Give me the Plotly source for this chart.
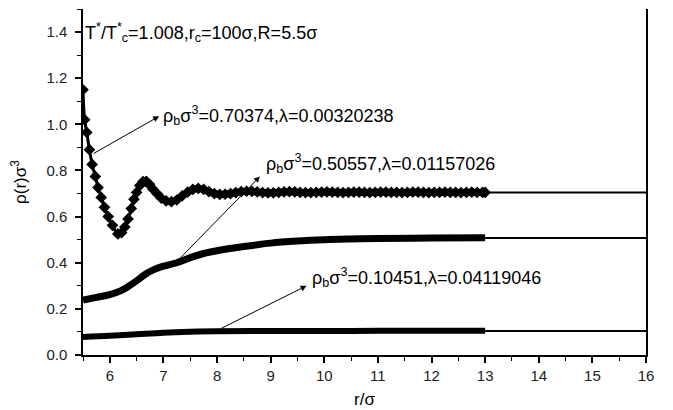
import plotly.graph_objects as go

# ---- data ----
# rho_b sigma^3 = 0.70374 (diamonds)
x1 = [5.50, 5.53, 5.57, 5.62, 5.67, 5.73, 5.78, 5.84, 5.90, 5.97, 6.05, 6.15, 6.22, 6.28,
      6.34, 6.40, 6.45, 6.50, 6.56, 6.62, 6.68, 6.74, 6.80, 6.88, 6.96, 7.05, 7.15, 7.25,
      7.35, 7.45, 7.55, 7.65, 7.75, 7.85, 7.95,
      8.05, 8.15, 8.25, 8.35, 8.45, 8.55, 8.65, 8.75, 8.85, 8.95,
      9.05, 9.15, 9.25, 9.35, 9.45, 9.55, 9.65, 9.75, 9.85, 9.95,
      10.05, 10.15, 10.25, 10.35, 10.45, 10.55, 10.65, 10.75, 10.85, 10.95,
      11.05, 11.15, 11.25, 11.35, 11.45, 11.55, 11.65, 11.75, 11.85, 11.95,
      12.05, 12.15, 12.25, 12.35, 12.45, 12.55, 12.65, 12.75, 12.85, 12.95, 13.00]
y1 = [1.150, 1.020, 0.965, 0.890, 0.826, 0.774, 0.726, 0.683, 0.640, 0.600, 0.562, 0.525, 0.530, 0.555,
      0.590, 0.635, 0.675, 0.705, 0.735, 0.752, 0.752, 0.740, 0.720, 0.700, 0.680, 0.668, 0.665, 0.672,
      0.690, 0.706, 0.718, 0.722, 0.718, 0.708, 0.700,
      0.696, 0.697, 0.700, 0.704, 0.708, 0.710, 0.709, 0.707, 0.704, 0.703,
      0.703, 0.705, 0.707, 0.708, 0.707, 0.705, 0.704, 0.704, 0.705, 0.706,
      0.707, 0.706, 0.705, 0.704, 0.705, 0.706, 0.706, 0.705, 0.704, 0.705,
      0.706, 0.706, 0.705, 0.705, 0.704, 0.705, 0.706, 0.706, 0.705, 0.704,
      0.705, 0.705, 0.706, 0.705, 0.705, 0.704, 0.705, 0.706, 0.705, 0.705, 0.705]

# rho_b sigma^3 = 0.50557
x2 = [5.5, 5.75, 6.0, 6.2, 6.35, 6.5, 6.65, 6.8, 7.0, 7.25, 7.5, 7.75, 8.0, 8.5, 9.0, 9.5,
      10.0, 10.5, 11.0, 12.0, 13.0]
y2 = [0.238, 0.250, 0.262, 0.278, 0.298, 0.322, 0.348, 0.368, 0.385, 0.400, 0.422, 0.440,
      0.452, 0.470, 0.485, 0.494, 0.500, 0.503, 0.505, 0.507, 0.508]

# rho_b sigma^3 = 0.10451
x3 = [5.5, 6.0, 6.5, 7.0, 7.5, 8.0, 9.0, 10.0, 11.0, 12.0, 13.0]
y3 = [0.078, 0.083, 0.090, 0.097, 0.101, 0.103, 0.104, 0.104, 0.105, 0.105, 0.105]

# bulk lines beyond the computed range
x_bulk = [13.0, 16.0]
y1_bulk = [0.705, 0.705]
y2_bulk = [0.507, 0.507]
y3_bulk = [0.104, 0.104]

x_ticks = [6, 7, 8, 9, 10, 11, 12, 13, 14, 15, 16]
y_ticks = [0.0, 0.2, 0.4, 0.6, 0.8, 1.0, 1.2, 1.4]

FONT = "Liberation Sans, Arial, sans-serif"
INK = "black"
SPLIT = 20  # index where the steep, sparse part of curve 1 ends

fig = go.Figure()

for yb in (y1_bulk, y2_bulk, y3_bulk):
    fig.add_trace(go.Scatter(x=x_bulk, y=yb, mode="lines",
                             line=dict(color=INK, width=2), showlegend=False,
                             hoverinfo="skip"))

fig.add_trace(go.Scatter(x=x3, y=y3, mode="lines", line=dict(color=INK, width=6, shape="spline"),
                         showlegend=False))
fig.add_trace(go.Scatter(x=x2, y=y2, mode="lines", line=dict(color=INK, width=7, shape="spline"),
                         showlegend=False))
# steep part: thin line with separate diamonds
fig.add_trace(go.Scatter(x=x1[:SPLIT + 1], y=y1[:SPLIT + 1], mode="lines+markers",
                         line=dict(color=INK, width=3, shape="spline"),
                         marker=dict(symbol="diamond", size=9, color=INK),
                         showlegend=False))
# dense part: thick band of overlapping diamonds
fig.add_trace(go.Scatter(x=x1[SPLIT:], y=y1[SPLIT:], mode="lines+markers",
                         line=dict(color=INK, width=7, shape="spline"),
                         marker=dict(symbol="diamond", size=9, color=INK),
                         showlegend=False))

annotations = [
    dict(x=5.50, y=1.40, xref="x", yref="y", xanchor="left", yanchor="middle", showarrow=False,
         font=dict(size=18),
         text="T<sup>*</sup>/T<sup>*</sup><sub>c</sub>=1.008,r<sub>c</sub>=100σ,R=5.5σ"),
    dict(x=6.95, y=1.04, xref="x", yref="y", xanchor="left", yanchor="middle", showarrow=False,
         font=dict(size=18),
         text="ρ<sub>b</sub>σ<sup>3</sup>=0.70374,λ=0.00320238"),
    dict(x=8.87, y=0.83, xref="x", yref="y", xanchor="left", yanchor="middle", showarrow=False,
         font=dict(size=18),
         text="ρ<sub>b</sub>σ<sup>3</sup>=0.50557,λ=0.01157026"),
    dict(x=9.74, y=0.335, xref="x", yref="y", xanchor="left", yanchor="middle", showarrow=False,
         font=dict(size=18),
         text="ρ<sub>b</sub>σ<sup>3</sup>=0.10451,λ=0.04119046"),
]
# arrows (tail on curve -> head at label)
arrows = [((5.67, 0.87), (6.92, 1.035)),
          ((7.27, 0.41), (8.80, 0.774)),
          ((8.05, 0.112), (9.67, 0.30))]
for (tx, ty), (hx, hy) in arrows:
    annotations.append(dict(x=hx, y=hy, ax=tx, ay=ty, xref="x", yref="y", axref="x", ayref="y",
                            text="", showarrow=True, arrowhead=2, arrowsize=1.2,
                            arrowwidth=1, arrowcolor=INK))

# the page body has an 8px default margin, so the figure is sized to fit inside it
fig.update_layout(
    width=665, height=402,
    margin=dict(l=75, r=27, t=1, b=55, autoexpand=False),
    paper_bgcolor="white", plot_bgcolor="white",
    font=dict(family=FONT, size=17, color=INK),
    annotations=annotations,
)
fig.update_xaxes(range=[5.5, 16], tickvals=x_ticks, ticktext=[str(v) for v in x_ticks],
                 automargin=False,
                 showgrid=False, zeroline=False, showline=True, linecolor=INK, linewidth=1.5,
                 ticks="outside", ticklen=6, tickwidth=1.5, tickcolor=INK,
                 tickfont=dict(size=15, family=FONT, color="#222"),
                 minor=dict(dtick=0.5, tick0=5.5, ticks="outside", ticklen=4, tickwidth=1, tickcolor=INK),
                 title=dict(text="r/σ", font=dict(size=17), standoff=10))
fig.update_yaxes(range=[0, 1.5], tickvals=y_ticks, ticktext=[f"{v:.1f}" for v in y_ticks],
                 automargin=False,
                 showgrid=False, zeroline=False, showline=True, linecolor=INK, linewidth=1.5,
                 mirror=True,
                 ticks="outside", ticklen=6, tickwidth=1.5, tickcolor=INK, ticklabelstandoff=5,
                 tickfont=dict(size=15, family=FONT, color="#222"),
                 minor=dict(dtick=0.1, tick0=0, ticks="outside", ticklen=4, tickwidth=1, tickcolor=INK),
                 title=dict(text="ρ(r)σ<sup>3</sup>", font=dict(size=17), standoff=16))

fig.write_html("out.html")
